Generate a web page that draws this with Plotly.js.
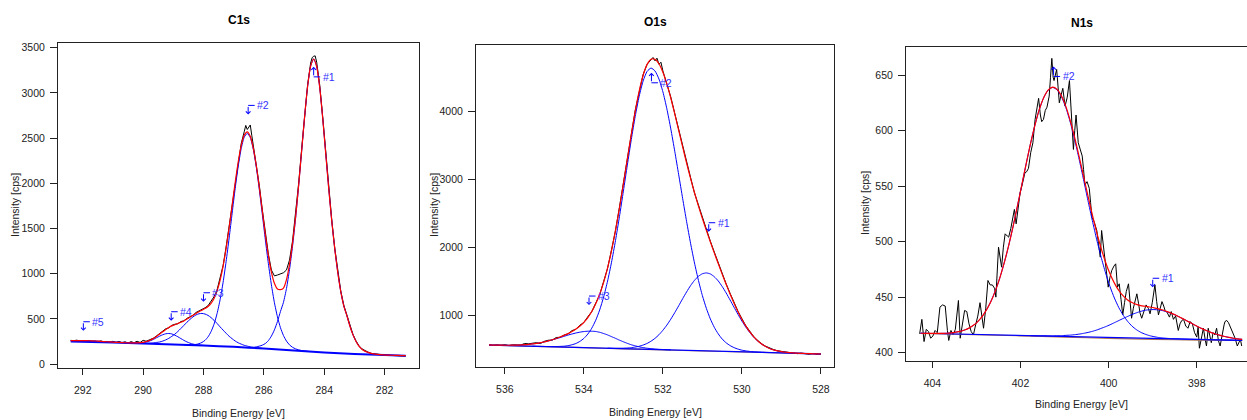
<!DOCTYPE html>
<html>
<head>
<meta charset="utf-8">
<script src="https://cdn.plot.ly/plotly-3.0.1.min.js"></script>
<style>
html,body{margin:0;padding:0;background:#fff;overflow:hidden;}
#chart{width:1247px;height:420px;}
</style>
</head>
<body>
<div id="chart"></div>
<script>
// ---------------- C1s ----------------
const c1sE = [292.4,292.2,292.0,291.8,291.6,291.4,291.2,291.0,290.8,290.6,290.4,290.2,290.0,289.8,
289.65,289.55,289.45,289.35,289.25,289.15,289.05,288.95,288.85,288.75,288.65,288.55,288.45,288.35,288.25,288.15,288.05,
287.95,287.85,287.75,287.65,287.55,287.45,287.35,287.25,287.15,287.05,286.95,286.85,286.75,286.65,286.55,286.45,286.35,286.25,286.15,286.05,
285.95,285.85,285.75,285.65,285.55,285.45,285.35,285.25,285.15,285.05,284.95,284.85,284.75,284.65,284.55,284.45,284.35,284.25,284.15,284.05,
283.95,283.85,283.75,283.65,283.55,283.45,283.35,283.25,283.15,283.05,282.95,282.85,282.75,282.65,282.55,282.45,
282.25,282.05,281.85,281.65,281.45,281.3];
const c1sFit = [258,259,259,257.5,254.7,250.8,246.5,242.5,238.6,235.3,233.6,233.8,239.5,258.6,
283.8,307.6,332.4,358.2,383,403.8,421.6,434.4,448.2,462,476.8,496.9,518,539.2,560,578.8,595.6,
613.3,635.9,670.5,725.1,808.7,926.3,1083.9,1280.5,1509.1,1758.7,2008.1,2235.3,2417.5,2532.7,2569,2519,2388,2194,1953,1689,
1429,1200,1018,893,830,823,840,934,1103,1335,1626,1971,2352,2737,3073,3296,3375,3292,3063,2720,
2329,1939,1581,1271,1010,798,641,535,421,325,252,199,164,143,129,118,
106,101,98,96,94,92];
const c1sBaseE = [292.4,291,290,289,288,287,286,285,284,283,282,281.3];
const c1sBaseY = [248,238,228,216,204,190,172,150,127,110,100,92];
const c1sP1E = [286.55,286.45,286.35,286.25,286.15,286.05,285.95,285.85,285.75,285.65,285.55,285.45,285.35,285.25,285.15,285.05,
284.95,284.85,284.75,284.65,284.55,284.45,284.35,284.25,284.15,284.05,283.95,283.85,283.75,283.65,283.55,283.45,283.35,283.25,283.15,283.05,
282.95,282.85,282.75,282.65,282.55,282.45,282.25,282.05];
const c1sP1Y = [183,183,184,190,198,209,227,259,309,378,470,581,683,836,1044,1301,
1607,1961,2347,2734,3072,3296,3375,3292,3063,2720,2329,1939,1581,1271,1010,798,641,535,421,325,
252,199,164,143,129,118,106,101];
const c1sP2E = [288.65,288.55,288.45,288.35,288.25,288.15,288.05,287.95,287.85,287.75,287.65,287.55,287.45,287.35,287.25,287.15,287.05,
286.95,286.85,286.75,286.65,286.55,286.45,286.35,286.25,286.15,286.05,285.95,285.85,285.75,285.65,285.55,285.45,285.35,285.25,285.15,285.05,
284.95,284.85,284.75,284.65,284.55,284.45];
const c1sP2Y = [212,212,212,213,217,225,239,262,300,358,441,558,711,904,1135,1394,1670,
1942,2187,2384,2510,2552,2506,2376,2177,1928,1652,1373,1110,876,679,522,402,315,254,212,185,
168,157,149,145,141,137];
const c1sP3E = [290.15,290.05,289.95,289.85,289.75,289.65,289.55,289.45,289.35,289.25,289.15,289.05,
288.95,288.85,288.75,288.65,288.55,288.45,288.35,288.25,288.15,288.05,287.95,287.85,287.75,287.65,287.55,287.45,287.35,287.25,287.15,287.05,
286.95,286.85,286.75,286.65,286.55,286.45,286.35,286.25,286.15,286.05];
const c1sP3Y = [230,230,229,230,231,234,239,244,254,267,284,306,
330,360,393,427,462,493,521,543,556,560,553,538,514,483,449,411,375,340,307,280,
255,235,220,207,198,190,184,181,177,174];
const c1sP4E = [290.35,290.25,290.15,290.05,289.95,289.85,289.75,289.65,289.55,289.45,289.35,289.25,289.15,289.05,
288.95,288.85,288.75,288.65,288.55,288.45,288.35,288.25,288.15,288.05,287.95];
const c1sP4Y = [233,233,234,236,240,248,259,274,292,309,324,335,338,333,
319,302,282,262,245,231,221,214,210,207,204];
const c1sP5E = [292.4,292.2,292.0,291.8,291.6,291.4,291.2,291.0,290.8,290.6,290.4,290.2];
const c1sP5Y = [258,259,259,257.5,254.7,250.8,246.5,242.5,238.6,235.3,232.6,230.3];
const c1sDataE = [292.4,292.3,292.2,292.1,292.0,291.9,291.8,291.7,291.6,291.5,
291.4,291.3,291.2,291.1,291.0,290.9,290.8,290.7,290.6,290.5,
290.4,290.3,290.2,290.1,290.0,289.9,289.8,289.65,289.55,289.45,
289.35,289.25,289.15,289.05,288.95,288.85,288.75,288.65,288.55,288.45,
288.35,288.25,288.15,288.05,287.95,287.85,287.75,287.65,287.55,287.45,
287.35,287.25,287.15,287.05,286.95,286.85,286.75,286.65,286.6,286.55,
286.5,286.45,286.4,286.35,286.25,286.15,286.05,285.95,285.85,285.75,
285.65,285.55,285.45,285.35,285.25,285.15,285.05,284.95,284.85,284.75,
284.65,284.55,284.45,284.4,284.35,284.3,284.25,284.15,284.05,283.95,
283.85,283.75,283.65,283.55,283.45,283.35,283.25,283.15,283.05,282.95,
282.85,282.75,282.65,282.55,282.45,282.35,282.25,282.15,282.05,281.95,
281.85,281.75,281.65,281.55,281.45,281.35,281.3];
const c1sDataY = [262,258,264,255,258,252,256,250,254,245,
256,244,250,240,252,238,250,236,246,232,
248,236,252,238,262,252,266,288,312,338,
355,390,400,428,440,445,470,478,505,522,
538,570,585,598,622,645,690,745,820,940,
1090,1295,1520,1770,2020,2250,2440,2570,2640,2595,
2620,2645,2530,2420,2215,1975,1705,1440,1215,1040,
975,985,1000,1010,1040,1150,1360,1650,1990,2370,
2750,3090,3330,3390,3405,3410,3340,3090,2735,2340,
1950,1595,1280,1022,805,650,540,430,330,258,
203,168,145,132,118,112,108,104,102,98,
96,99,92,95,88,92,87];
const c1sLabNames = ['#1','#2','#3','#4','#5'];
const c1sLabE = [284.35,286.52,288.0,289.07,291.98];
const c1sLabY = [3288,2762,689,479,368];
const c1sLabDir = ['up','down','down','down','down'];
const c1sXTicks = [282,284,286,288,290,292];
const c1sYTicks = [0,500,1000,1500,2000,2500,3000,3500];

// ---------------- O1s ----------------
const o1sE = [536.4,536.3,536.2,536.1,536.0,535.9,535.8,535.7,535.6,535.5,
535.4,535.3,535.2,535.1,535.0,534.9,534.8,534.7,534.6,534.5,
534.4,534.3,534.2,534.1,534.0,533.9,533.8,533.7,533.6,533.5,
533.4,533.3,533.2,533.1,533.0,532.9,532.8,532.7,532.6,532.5,
532.4,532.3,532.2,532.1,532.0,531.9,531.8,531.7,531.6,531.5,
531.4,531.3,531.2,531.1,531.0,530.9,530.8,530.7,530.6,530.5,
530.4,530.3,530.2,530.1,530.0,529.9,529.8,529.7,529.6,529.5,
529.4,529.3,529.2,529.1,529.0,528.9,528.8,528.7,528.6,528.5,
528.4,528.3,528.2,528.1,528.0];
const o1sFit = [558,556,555,555,554,554,555,556,558,562,
567,573,581,592,604,618,635,654,675,699,
726,757,793,837,892,962,1051,1165,1307,1482,
1697,1952,2250,2579,2936,3304,3666,4007,4303,4538,
4698,4775,4773,4707,4583,4410,4201,3968,3724,3480,
3241,3016,2804,2607,2422,2248,2080,1917,1759,1603,
1453,1310,1174,1049,935,836,750,678,619,572,
535,507,486,470,459,451,445,440,437,434,
432,430,428,427,425];
const o1sBaseE = [536.4,528.0];
const o1sBaseY = [557,425];
const o1sShirE = [536.4,534,533,532,531,530,528];
const o1sShirY = [557,518,500,484,469,455,425];
const o1sP1E = [533.4,533.3,533.2,533.1,533.0,532.9,532.8,532.7,532.6,532.5,
532.4,532.3,532.2,532.1,532.0,531.9,531.8,531.7,531.6,531.5,
531.4,531.3,531.2,531.1,531.0,530.9,530.8,530.7,530.6,530.5,
530.4,530.3,530.2,530.1,530.0,529.9,529.8,529.7,529.6,529.5,
529.4,529.3,529.2,529.1,529.0,528.9,528.8,528.7,528.6,528.5,528.4];
const o1sP1Y = [511,510,509,510,511,514,518,527,539,557,
581,614,656,709,775,851,939,1035,1137,1241,
1341,1434,1512,1572,1609,1621,1606,1565,1503,1421,
1326,1222,1115,1010,910,820,740,672,615,570,
534,506,486,470,459,451,445,440,437,434,432];
const o1sP2E = [535.3,535.2,535.1,535.0,534.9,534.8,534.7,534.6,534.5,534.4,
534.3,534.2,534.1,534.0,533.9,533.8,533.7,533.6,533.5,533.4,
533.3,533.2,533.1,533.0,532.9,532.8,532.7,532.6,532.5,532.4,
532.3,532.2,532.1,532.0,531.9,531.8,531.7,531.6,531.5,531.4,
531.3,531.2,531.1,531.0,530.9,530.8,530.7,530.6,530.5,530.4,
530.3,530.2,530.1,530.0,529.9,529.8,529.7,529.6,529.5,529.4,529.3];
const o1sP2Y = [540,538,537,536,535,534,535,537,540,548,
561,580,611,655,719,806,923,1075,1266,1501,
1779,2098,2451,2828,3212,3587,3933,4228,4454,4595,
4643,4601,4482,4293,4043,3746,3416,3069,2719,2378,
2059,1767,1509,1285,1098,943,819,722,646,590,
549,519,497,481,471,463,458,454,451,448,446];
const o1sP3E = [536.4,536.3,536.2,536.1,536.0,535.9,535.8,535.7,535.6,535.5,
535.4,535.3,535.2,535.1,535.0,534.9,534.8,534.7,534.6,534.5,
534.4,534.3,534.2,534.1,534.0,533.9,533.8,533.7,533.6,533.5,
533.4,533.3,533.2,533.1,533.0,532.9,532.8,532.7,532.6,532.5,
532.4,532.3,532.2,532.1,532.0,531.9,531.8];
const o1sP3Y = [558,556,555,555,554,554,555,556,558,562,
567,573,581,591,603,617,633,650,667,686,
704,720,735,747,756,761,761,757,745,727,
706,681,656,629,605,582,561,545,530,519,
510,504,498,494,491,488,486];
const o1sDataE = [536.4,536.3,536.2,536.1,536.0,535.9,535.8,535.7,535.6,535.5,
535.4,535.3,535.2,535.1,535.0,534.9,534.8,534.7,534.6,534.5,
534.4,534.3,534.2,534.1,534.0,533.9,533.8,533.7,533.6,533.5,
533.4,533.3,533.2,533.1,533.0,532.9,532.8,532.7,532.6,532.5,
532.4,532.3,532.25,532.2,532.15,532.1,532.05,
532.0,531.9,531.8,531.7,531.6,531.5,531.4,531.3,531.2,531.1,
531.0,530.9,530.8,530.7,530.6,530.5,530.4,530.3,530.2,530.1,
530.0,529.9,529.8,529.7,529.6,529.5,529.4,529.3,529.2,529.1,
529.0,528.9,528.8,528.7,528.6,528.5,528.4,528.3,528.2,528.1,528.0];
const o1sDataY = [562,550,560,552,562,549,560,558,556,580,
575,584,592,578,612,628,630,668,672,705,
722,770,790,850,890,975,1050,1175,1300,1495,
1690,1960,2245,2590,2930,3310,3660,4020,4300,4550,
4700,4760,4800,4750,4790,4700,4730,
4600,4420,4215,3975,3735,3470,3250,3030,2800,2615,
2430,2255,2090,1930,1765,1615,1460,1320,1180,1055,
945,840,760,680,625,575,540,510,490,472,
465,452,448,440,430,438,426,420,432,418,425];
const o1sLabNames = ['#1','#2','#3'];
const o1sLabE = [530.84,532.29,533.87];
const o1sLabY = [2229,4574,1147];
const o1sLabDir = ['down','up','down'];
const o1sXTicks = [528,530,532,534,536];
const o1sYTicks = [1000,2000,3000,4000];

// ---------------- N1s ----------------
const n1sE = [404.27,404.17,404.07,403.97,403.87,403.77,403.67,403.57,403.47,403.37,
403.27,403.17,403.07,402.97,402.87,402.77,402.67,402.57,402.47,402.37,
402.27,402.17,402.07,401.97,401.87,401.77,401.67,401.57,401.47,401.37,
401.27,401.17,401.07,400.97,400.87,400.77,400.67,400.57,400.47,400.37,
400.27,400.17,400.07,399.97,399.87,399.77,399.67,399.57,399.47,399.37,
399.27,399.17,399.07,398.97,398.87,398.77,398.67,398.57,398.47,398.37,
398.27,398.17,398.07,397.97,397.87,397.77,397.67,397.57,397.47,397.37,
397.27,397.17,397.07,396.97];
const n1sFit = [417.5,417.4,417.3,417.3,417.3,417.4,417.5,417.9,418.5,419.2,
420.4,422.1,424.6,428.0,432.6,438.8,446.4,455.9,467.4,481.0,
496.4,513.6,532.1,551.3,570.5,588.9,605.4,619.5,630.0,636.6,
639.1,637.1,631.1,621.5,608.6,593.4,576.5,558.9,541.1,524.0,
508.1,493.9,481.4,471.0,462.6,456.0,451.1,447.5,445.1,443.5,
442.4,441.8,441.1,440.4,439.5,438.4,437.0,435.4,433.7,431.7,
429.6,427.5,425.4,423.3,421.4,419.7,418.1,416.8,415.6,414.6,
413.7,413.0,412.4,412.0];
const n1sP2Y = [417.5,417.4,417.3,417.3,417.3,417.4,417.5,417.9,418.5,419.2,
420.4,422.1,424.6,428.0,432.6,438.8,446.4,455.9,467.4,481.0,
496.4,513.6,532.1,551.3,570.5,588.9,605.4,619.5,630.0,636.6,
638.8,636.6,630.4,620.5,607.3,591.6,574.1,555.7,537.0,518.8,
501.6,485.9,471.8,459.6,449.2,440.6,433.7,428.2,423.9,420.7,
418.3,416.6,415.3,414.4,413.7,413.2,412.9,412.6,412.5,412.4,
412.2,412.1,412.0,411.9,411.8,411.7,411.6,411.6,411.5,411.4,
411.3,411.2,411.1,411.0];
const n1sP1E = [401.77,401.67,401.57,401.47,401.37,401.27,401.17,401.07,400.97,400.87,
400.77,400.67,400.57,400.47,400.37,400.27,400.17,400.07,399.97,399.87,
399.77,399.67,399.57,399.47,399.37,399.27,399.17,399.07,398.97,398.87,
398.77,398.67,398.57,398.47,398.37,398.27,398.17,398.07,397.97,397.87,
397.77,397.67,397.57,397.47,397.37,397.27,397.17,397.07,396.97];
const n1sP1Y = [415.3,415.2,415.2,415.2,415.2,415.1,415.2,415.3,415.6,415.8,
416.2,416.7,417.4,418.2,419.2,420.4,421.9,423.4,425.1,427.0,
428.9,430.8,432.6,434.4,435.9,437.2,438.2,438.7,438.8,438.5,
437.8,436.6,435.2,433.6,431.6,429.6,427.5,425.4,423.3,421.4,
419.7,418.1,416.8,415.6,414.6,413.7,413.0,412.4,412.0];
const n1sBaseE = [404.27,396.97];
const n1sBaseY = [417.5,411.0];
const n1sShirE = [404.27,402,401,400,399,398,396.97];
const n1sShirY = [417.4,415.2,414.0,412.9,412.0,411.3,411.0];
const n1sDataE = [404.29,404.24,404.19,404.14,404.09,404.04,403.99,403.94,403.89,403.83,
403.77,403.71,403.66,403.63,403.58,403.53,403.48,403.45,403.41,403.37,
403.32,403.27,403.22,403.17,403.12,403.07,403.02,402.97,402.92,402.87,
402.84,402.79,402.74,402.69,402.64,402.59,402.56,402.50,402.46,402.43,
402.39,402.35,402.30,402.27,402.22,402.18,402.14,402.10,402.05,402.01,
401.97,401.94,401.90,401.86,401.82,401.77,401.72,401.67,401.62,401.59,
401.55,401.52,401.48,401.44,401.40,401.35,401.32,401.29,401.26,401.24,
401.21,401.18,401.15,401.12,401.08,401.04,400.99,400.94,400.89,400.85,
400.80,400.77,400.74,400.69,400.64,400.60,400.57,400.54,400.49,400.44,
400.41,400.38,400.33,400.27,400.23,400.19,400.16,400.12,400.08,400.04,
400.01,399.97,399.93,399.88,399.84,399.80,399.76,399.72,399.68,399.64,
399.60,399.55,399.51,399.48,399.44,399.40,399.36,399.32,399.29,399.25,
399.20,399.15,399.10,399.06,399.01,398.95,398.91,398.87,398.83,398.79,
398.75,398.72,398.67,398.62,398.58,398.53,398.48,398.42,398.38,398.34,
398.30,398.25,398.20,398.15,398.10,398.05,398.00,397.97,397.94,397.89,
397.85,397.81,397.78,397.74,397.70,397.67,397.63,397.59,397.55,397.51,
397.47,397.42,397.38,397.36,397.32,397.28,397.24,397.20,397.17,397.13,
397.08,397.04,397.01,396.98];
const n1sDataY = [417,430,410,421,419,413,415,420,418,441,
443,442,420,411,420,416,421,430,447,413,
425,438,437,426,419,416,425,433,445,432,
422,440,465,461,461,458,450,495,484,477,
495,507,505,504,512,522,529,516,535,544,
550,556,562,563,566,580,589,610,620,629,
614,608,610,618,621,631,648,665,648,645,
650,655,640,625,632,638,622,630,645,620,
583,600,614,589,582,577,565,551,554,548,
535,522,518,510,498,486,510,495,483,470,
459,468,474,478,480,459,462,448,434,445,
455,462,445,431,440,448,453,444,436,431,
438,443,440,435,445,461,446,434,440,446,
442,438,436,432,437,430,433,420,426,429,
430,424,422,428,426,418,414,423,404,415,
422,412,406,422,415,409,418,416,422,411,
406,418,425,428,429,427,423,420,417,413,
406,409,412,406];
const n1sLabNames = ['#1','#2'];
const n1sLabE = [399.0,401.25];
const n1sLabY = [458.9,657.7];
const n1sLabDir = ['down','up'];
const n1sXTicks = [398,400,402,404];
const n1sYTicks = [400,450,500,550,600,650];

const panelTitles = ['C1s','O1s','N1s'];
const xTitle = 'Binding Energy [eV]';
const yTitle = 'Intensity [cps]';

// ---------------- drawing ----------------
const FONT = 'Liberation Sans, Arial, Helvetica, sans-serif';
const BLUE = '#0000ff', RED = '#ff0000', BLACK = '#000000', BROWN = '#b07850';

function ln(x, y, n, color, width, shape) {
  return {type:'scatter', mode:'lines', x:x, y:y, xaxis:'x'+(n===1?'':n), yaxis:'y'+(n===1?'':n),
    line:{color:color, width:width, shape:shape||'linear', smoothing:0.6}, hoverinfo:'skip', showlegend:false};
}

const traces = [];
// C1s
traces.push(ln(c1sDataE, c1sDataY, 1, BLACK, 1));
traces.push(ln(c1sBaseE, c1sBaseY, 1, BLUE, 2, 'spline'));
traces.push(ln(c1sP5E, c1sP5Y, 1, BLUE, 1, 'spline'));
traces.push(ln(c1sP4E, c1sP4Y, 1, BLUE, 1, 'spline'));
traces.push(ln(c1sP3E, c1sP3Y, 1, BLUE, 1, 'spline'));
traces.push(ln(c1sP2E, c1sP2Y, 1, BLUE, 1, 'spline'));
traces.push(ln(c1sP1E, c1sP1Y, 1, BLUE, 1, 'spline'));
traces.push(ln(c1sE, c1sFit, 1, RED, 1.2, 'spline'));
// O1s
traces.push(ln(o1sDataE, o1sDataY, 2, BLACK, 1));
traces.push(ln(o1sShirE, o1sShirY, 2, BROWN, 1.2, 'spline'));
traces.push(ln(o1sBaseE, o1sBaseY, 2, BLUE, 1.3));
traces.push(ln(o1sP3E, o1sP3Y, 2, BLUE, 1, 'spline'));
traces.push(ln(o1sP2E, o1sP2Y, 2, BLUE, 1, 'spline'));
traces.push(ln(o1sP1E, o1sP1Y, 2, BLUE, 1, 'spline'));
traces.push(ln(o1sE, o1sFit, 2, RED, 1.2, 'spline'));
// N1s
traces.push(ln(n1sDataE, n1sDataY, 3, BLACK, 1));
traces.push(ln(n1sShirE, n1sShirY, 3, BROWN, 1.2, 'spline'));
traces.push(ln(n1sBaseE, n1sBaseY, 3, BLUE, 1.2));
traces.push(ln(n1sP1E, n1sP1Y, 3, BLUE, 1, 'spline'));
traces.push(ln(n1sE, n1sP2Y, 3, BLUE, 1, 'spline'));
traces.push(ln(n1sE, n1sFit, 3, RED, 1.2, 'spline'));

function axisX(domain, range, tickvals, anchor, mirror) {
  return {domain:domain, range:range, anchor:anchor, tickmode:'array', tickvals:tickvals,
    ticks:'outside', ticklen:6, tickwidth:1, tickcolor:'#222', showline:true, linecolor:'#222', linewidth:1,
    mirror:mirror, showgrid:false, zeroline:false, tickfont:{family:FONT, size:10.5, color:'#222'},
    ticklabelstandoff:6, fixedrange:true};
}
function axisY(domain, range, tickvals, anchor, mirror) {
  return {domain:domain, range:range, anchor:anchor, tickmode:'array', tickvals:tickvals,
    ticks:'outside', ticklen:7, tickwidth:1, tickcolor:'#222', showline:true, linecolor:'#222', linewidth:1,
    mirror:mirror, showgrid:false, zeroline:false, tickfont:{family:FONT, size:10.5, color:'#222'},
    ticklabelstandoff:3, fixedrange:true};
}

const W = 1247, H = 420;
const px = v => v / W, py = v => 1 - v / H;

const layout = {
  width:W, height:H, margin:{l:0, r:0, t:0, b:0, pad:0},
  paper_bgcolor:'#fff', plot_bgcolor:'#fff', showlegend:false, hovermode:false,
  xaxis: axisX([px(58), px(419)], [292.82, 280.86], c1sXTicks, 'y', true),
  yaxis: axisY([py(368), py(43)], [-44, 3552], c1sYTicks, 'x', true),
  xaxis2: axisX([px(476), px(834)], [536.73, 527.67], o1sXTicks, 'y2', true),
  yaxis2: axisY([py(367), py(45)], [233, 4984], o1sYTicks, 'x2', true),
  xaxis3: axisX([px(906), 1], [404.6, 396.86], n1sXTicks, 'y3', true),
  yaxis3: axisY([py(361), py(46.7)], [392.5, 675.5], n1sYTicks, 'x3', false),
  annotations: []
};

// panel titles and axis titles
const titlePos = [[238.5,20],[655,22],[1081.7,23]];
const xtPos = [[238,413],[655,411.7],[1081.7,404.3]];
const ytPos = [[15,205],[434,205],[865,203]];
for (let i = 0; i < 3; i++) {
  layout.annotations.push({xref:'paper', yref:'paper', x:px(titlePos[i][0]), y:py(titlePos[i][1]),
    xanchor:'center', yanchor:'middle', showarrow:false, text:'<b>'+panelTitles[i]+'</b>',
    font:{family:FONT, size:12, color:'#000'}});
  layout.annotations.push({xref:'paper', yref:'paper', x:px(xtPos[i][0]), y:py(xtPos[i][1]),
    xanchor:'center', yanchor:'middle', showarrow:false, text:xTitle,
    font:{family:FONT, size:10.5, color:'#222'}});
  layout.annotations.push({xref:'paper', yref:'paper', x:px(ytPos[i][0]), y:py(ytPos[i][1]),
    xanchor:'center', yanchor:'middle', showarrow:false, text:yTitle, textangle:-90,
    font:{family:FONT, size:10.5, color:'#222'}});
}

// peak labels: bent arrow + name
function addLabels(names, es, ys, dirs, n) {
  const xr = 'x' + (n===1?'':n), yr = 'y' + (n===1?'':n);
  for (let i = 0; i < names.length; i++) {
    const down = dirs[i] === 'down';
    const tail = down ? 9 : -10; // px offset of tail (up positive)
    layout.annotations.push({xref:xr, yref:yr, x:es[i], y:ys[i], text:'', showarrow:true,
      arrowhead:4, arrowsize:0.9, arrowwidth:1, arrowcolor:BLUE, ax:0, ay:-tail, standoff:0, startstandoff:0});
    layout.annotations.push({xref:xr, yref:yr, x:es[i], y:ys[i], yshift:tail, text:'', showarrow:true,
      arrowhead:0, arrowwidth:1, arrowcolor:BLUE, ax:8, ay:0, standoff:0, startstandoff:0});
    layout.annotations.push({xref:xr, yref:yr, x:es[i], y:ys[i], xshift:7, yshift:tail, text:names[i],
      showarrow:false, xanchor:'left', yanchor:'middle', font:{family:FONT, size:10.5, color:'#3333ff'}});
  }
}
addLabels(c1sLabNames, c1sLabE, c1sLabY, c1sLabDir, 1);
addLabels(o1sLabNames, o1sLabE, o1sLabY, o1sLabDir, 2);
addLabels(n1sLabNames, n1sLabE, n1sLabY, n1sLabDir, 3);

Plotly.newPlot('chart', traces, layout, {displayModeBar:false, staticPlot:true});
</script>
</body>
</html>
